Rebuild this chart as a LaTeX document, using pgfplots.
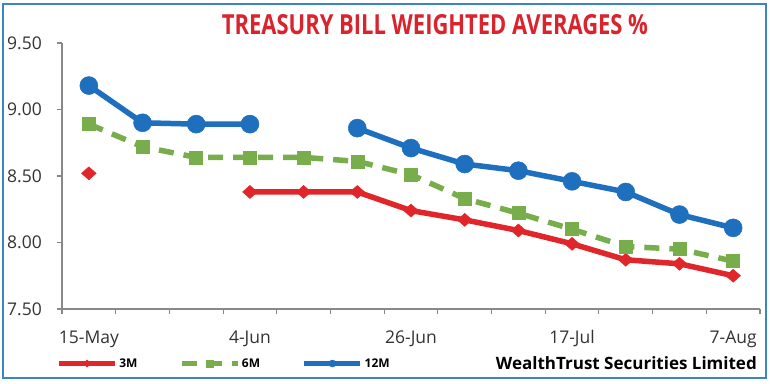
\documentclass[border=0pt]{standalone}
\usepackage{pgfplots}
\pgfplotsset{compat=1.18}
\usepackage{fontspec}
\setmainfont{Open Sans}
\definecolor{tred}{HTML}{E0262A}
\definecolor{tgreen}{HTML}{78AD4C}
\definecolor{tblue}{HTML}{1F6FBF}
\definecolor{titlered}{HTML}{D9232D}
\definecolor{frameblue}{HTML}{3A86C0}
\definecolor{axgray}{HTML}{888888}
\definecolor{lbl}{HTML}{333333}
\pgfplotstableread{
idx  m3    m6    m12
0    8.52  8.89  9.18
1    nan   8.72  8.90
2    nan   8.64  8.89
3    8.38  8.64  8.89
4    8.38  8.64  nan
5    8.38  8.61  8.86
6    8.24  8.51  8.71
7    8.17  8.33  8.59
8    8.09  8.22  8.54
9    7.99  8.10  8.46
10   7.87  7.97  8.38
11   7.84  7.95  8.21
12   7.75  7.86  8.11
}\tbdata
\begin{document}
\begin{tikzpicture}[x=1pt,y=1pt]
\useasboundingbox (0,0) rectangle (770,383);
\fill[white] (0,0) rectangle (770,383);
\draw[frameblue, line width=2.5pt] (3,5) rectangle (766,379);
\node[anchor=base, inner sep=0pt, text=titlered] at (435,348)
  {\resizebox{426pt}{20pt}{\bfseries TREASURY BILL WEIGHTED AVERAGES \%}};
\node[anchor=base east, inner sep=0pt, text=black, font=\fontsize{17}{17}\selectfont\bfseries] at (757,14)
  {WealthTrust Securities Limited};
\begin{axis}[
  at={(62pt,74pt)}, anchor=south west,
  width=698pt, height=266pt, scale only axis,
  xmin=-0.5, xmax=12.5, ymin=7.5, ymax=9.5,
  axis x line*=bottom, axis y line*=left,
  axis line style={axgray, line width=1.3pt, -},
  every tick/.style={axgray, line width=1.1pt},
  tick align=outside, major tick length=5pt,
  xtick={-0.5,0.5,...,12.5}, xticklabels={},
  extra x ticks={0,3,6,9,12},
  extra x tick labels={15-May,4-Jun,26-Jun,17-Jul,7-Aug},
  extra x tick style={major tick length=0pt, tick style={draw=none},
     xticklabel style={anchor=base, inner sep=0pt, yshift=-34pt}},
  ytick={7.5,8,8.5,9,9.5},
  yticklabel style={anchor=east, inner sep=0pt, xshift=-15pt,
     /pgf/number format/fixed, /pgf/number format/precision=2,
     /pgf/number format/fixed zerofill},
  /pgf/number format/assume math mode=true,
  tick label style={font=\fontsize{17.5}{17.5}\selectfont, text=lbl},
  unbounded coords=jump,
  clip=false,
  legend columns=3,
  legend style={draw=none, fill=none, at={(rel axis cs:-0.012,-0.205)}, anchor=west,
     font=\fontsize{12}{12}\selectfont\bfseries,
     /tikz/every even column/.append style={column sep=40pt}},
  legend image code/.code={
     \draw[#1,mark repeat=2,mark phase=2] plot coordinates {(0pt,0pt) (28pt,0pt) (56pt,0pt)};},
  legend image post style={line width=4.5pt, mark size=3.5pt},
]
\addplot[tred, line width=5.5pt, mark=diamond*, mark size=6.5pt,
  mark options={solid, xscale=1.5, line width=0.5pt}] table[x=idx, y=m3] {\tbdata};
\addlegendentry{3M}
\addplot[tgreen, line width=5.5pt, dash pattern=on 15pt off 10pt, mark=square*, mark size=6.5pt,
  mark options={solid, line width=0.5pt}] table[x=idx, y=m6] {\tbdata};
\addlegendentry{6M}
\addplot[tblue, line width=5.5pt, mark=*, mark size=9pt,
  mark options={solid, line width=0.5pt}] table[x=idx, y=m12] {\tbdata};
\addlegendentry{12M}
\end{axis}
\end{tikzpicture}
\end{document}
